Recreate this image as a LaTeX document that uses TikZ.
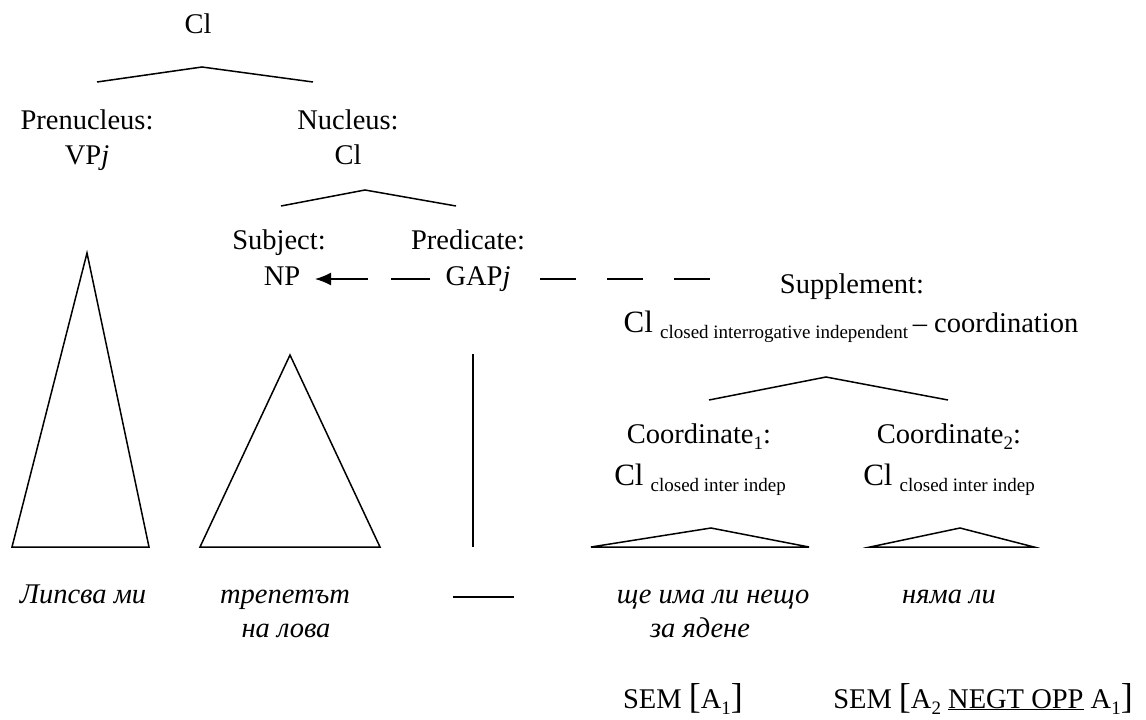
\documentclass[tikz,border=0pt]{standalone}
\usepackage{fontspec}
\setmainfont{Liberation Serif}
\usetikzlibrary{arrows.meta}
% lowered small-size subscript
\newcommand{\lowsub}[1]{\raisebox{-0.22em}{\fontsize{19}{20}\selectfont #1}}
\newcommand{\bigcl}{{\fontsize{31}{34}\selectfont Cl}}
\newcommand{\bigbr}[1]{{\fontsize{36}{38}\selectfont #1}}
\begin{document}
\begin{tikzpicture}[x=1pt,y=-1pt,
  lbl/.style={anchor=base,inner sep=0pt,font=\fontsize{28.5}{34}\selectfont},
  lex/.style={lbl,font=\fontsize{28.5}{34}\selectfont\itshape},
  edge/.style={line width=1.5pt,line cap=butt},
  tri/.style={line width=1.5pt,line join=miter}]
\useasboundingbox (0,0) rectangle (1146,720);

% ---- category labels
\node[lbl] (top) at (198,33) {Cl};
\node[lbl] (pre) at (87,129) {Prenucleus:};
\node[lbl] (preCat) at (87,164) {VP\textit{j}};
\node[lbl] (nuc) at (348,129) {Nucleus:};
\node[lbl] (nucCat) at (348,164) {Cl};
\node[lbl] (subj) at (279,249) {Subject:};
\node[lbl] (np) at (282,285) {NP};
\node[lbl] (pred) at (468,249) {Predicate:};
\node[lbl] (gap) at (478,285) {GAP\textit{j}};
\node[lbl] (supp) at (852,293) {Supplement:};
\node[lbl] (suppCat) at (851,332) {\bigcl\ \lowsub{closed interrogative independent }–~coordination};
\node[lbl] (co1) at (699,443) {Coordinate\lowsub{1}:};
\node[lbl] (co1Cat) at (700,485) {\bigcl\ \lowsub{closed inter indep}};
\node[lbl] (co2) at (949,443) {Coordinate\lowsub{2}:};
\node[lbl] (co2Cat) at (949,485) {\bigcl\ \lowsub{closed inter indep}};

% ---- branch points
\coordinate (t1) at (202,67);  \coordinate (l1) at (97,82);  \coordinate (r1) at (313,82);
\coordinate (t2) at (365,190); \coordinate (l2) at (281,206); \coordinate (r2) at (456,206);
\coordinate (t3) at (826,377); \coordinate (l3) at (709,400); \coordinate (r3) at (948,400);
\draw[edge] (l1) -- (t1) -- (r1);
\draw[edge] (l2) -- (t2) -- (r2);
\draw[edge] (l3) -- (t3) -- (r3);

% ---- subtree triangles and the gap stem
\coordinate (aT) at (87,253);  \coordinate (aL) at (12,547);  \coordinate (aR) at (149,547);
\coordinate (bT) at (290,355); \coordinate (bL) at (200,547); \coordinate (bR) at (380,547);
\coordinate (cT) at (711,528); \coordinate (cL) at (591,547); \coordinate (cR) at (809,547);
\coordinate (dT) at (960,528); \coordinate (dL) at (870,547); \coordinate (dR) at (1034,547);
\draw[tri] (aT) -- (aL) -- (aR) -- cycle;
\draw[tri] (bT) -- (bL) -- (bR) -- cycle;
\draw[tri] (cT) -- (cL) -- (cR) -- cycle;
\draw[tri] (dT) -- (dL) -- (dR) -- cycle;
\coordinate (sT) at (473,354); \coordinate (sB) at (473,547);
\draw[edge] (sT) -- (sB);

% ---- co-indexing: gap to subject, gap to supplement
\coordinate (gL) at (430,279); \coordinate (nR) at (315,279);
\draw[edge,-{Latex[length=16pt,width=13pt]},dash pattern=on 39pt off 23pt on 300pt off 0pt] (gL) -- (nR);
\coordinate (gR) at (540,279); \coordinate (sL) at (710,279);
\draw[edge,dash pattern=on 36pt off 31pt] (gR) -- (sL);

% ---- lexical material
\node[lex] (w1) at (83,603) {Липсва ми};
\node[lex] (w2a) at (285,603) {трепетът};
\node[lex] (w2b) at (286,637) {на лова};
\coordinate (eL) at (453,597); \coordinate (eR) at (514,597);
\draw[edge] (eL) -- (eR);
\node[lex] (w4a) at (713,603) {ще има ли нещо};
\node[lex] (w4b) at (700,637) {за ядене};
\node[lex] (w5) at (949,603) {няма ли};

% ---- semantics
\node[lbl] (sem1) at (683,708) {SEM \bigbr{[}A\lowsub{1}\bigbr{]}};
\node[lbl] (sem2) at (983,708) {SEM \bigbr{[}A\lowsub{2} \underline{NEGT OPP} A\lowsub{1}\bigbr{]}};
\end{tikzpicture}
\end{document}
